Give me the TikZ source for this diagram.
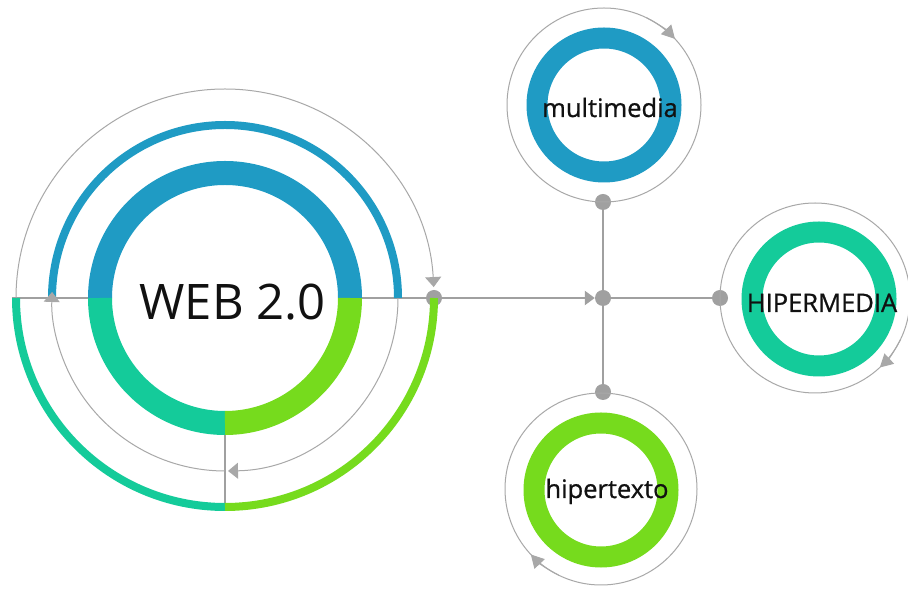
\documentclass[tikz,border=0pt]{standalone}
\usepackage{fontspec}
\setmainfont{Open Sans}
\newfontfamily\lblfont{Open Sans}[BoldFont={Open Sans}, BoldFeatures={FakeBold=0.8}]
\usetikzlibrary{arrows.meta,calc}
\definecolor{cblue}{HTML}{1F9BC4}
\definecolor{cteal}{HTML}{14CB9A}
\definecolor{cgreen}{HTML}{76DB1D}
\definecolor{cgray}{HTML}{A0A0A0}
\definecolor{clight}{HTML}{A8A8A8}
\definecolor{ctext}{HTML}{111111}
\begin{document}
\begin{tikzpicture}[x=1pt,y=1pt,
  thinc/.style={draw=clight, line width=1pt},
  axis/.style={draw=cgray, line width=1.3pt},
  link/.style={draw=cgray, line width=2.2pt},
  dotn/.style={circle, fill=cgray, minimum size=16pt, inner sep=0pt},
  bigtip/.style={-{Triangle[length=10pt,width=16pt]}},
  smalltip/.style={-{Triangle[length=13pt,width=14pt]}},
  lbl/.style={font=\lblfont\bfseries\fontsize{25.5}{28}\selectfont, text=ctext, inner sep=0pt, anchor=base}
]
\useasboundingbox (0,0) rectangle (908,589);
\fill[white] (0,0) rectangle (908,589);
\coordinate (C) at (225,291);
% axis lines of the big figure
\coordinate (L0) at ([shift={(180:213)}]C);
\coordinate (L1) at ([shift={(180:137)}]C);
\coordinate (R1) at ([shift={(0:137)}]C);
\coordinate (B1) at ([shift={(270:137)}]C);
\coordinate (B0) at ([shift={(270:213)}]C);
\node[dotn] (d1) at ([shift={(0:209)}]C) {};
\node[dotn] (j) at (603,291) {};
\node[dotn] (dt) at (603,387) {};
\node[dotn] (db) at (603,197) {};
\node[dotn] (dr) at (720,291) {};
\draw[axis] (L0) -- (L1);
\draw[axis] (R1) -- (d1);
\draw[axis] (B1) -- (B0);
% inner ring
\draw[line width=24pt, cblue] ([shift={(0:125)}]C) arc[start angle=0,end angle=180,radius=125];
\draw[line width=24pt, cteal] ([shift={(180:125)}]C) arc[start angle=180,end angle=270,radius=125];
\draw[line width=24pt, cgreen] ([shift={(270:125)}]C) arc[start angle=270,end angle=360,radius=125];
% second ring
\draw[line width=8pt, cblue] ([shift={(0:173)}]C) arc[start angle=0,end angle=180,radius=173];
\draw[thinc, bigtip] ([shift={(0:173)}]C) arc[start angle=0,end angle=-89,radius=173];
\draw[thinc, bigtip] ([shift={(-90:173)}]C) arc[start angle=-90,end angle=-182,radius=173];
% outer ring
\draw[line width=8pt, cteal] ([shift={(180:209)}]C) arc[start angle=180,end angle=270,radius=209];
\draw[line width=8pt, cgreen] ([shift={(270:209)}]C) arc[start angle=270,end angle=360,radius=209];
\draw[thinc, bigtip] ([shift={(180:209)}]C) arc[start angle=180,end angle=3,radius=209];
\node[font=\fontsize{49}{50}\selectfont, text=ctext, inner sep=0pt, anchor=base] (web) at (232.5,269) {WEB 2.0};
% links
\draw[link, -{Triangle[length=10pt,width=14pt]}] (d1) -- (j);
\draw[link] (j) -- (dt);
\draw[link] (j) -- (db);
\draw[link] (j) -- (dr);
% multimedia
\coordinate (M) at (604,484);
\draw[line width=21pt, cblue] (M) circle[radius=67];
\draw[thinc] (M) circle[radius=97];
\draw[thinc, smalltip] ([shift={(64:97)}]M) arc[start angle=64,end angle=43,radius=97];
\node[lbl] (tm) at (610,472) {multimedia};
% HIPERMEDIA
\coordinate (H) at (819,290);
\coordinate (H2) at (815,291);
\draw[line width=21pt, cteal] (H) circle[radius=67];
\draw[thinc] (H2) circle[radius=95];
\draw[thinc, smalltip] ([shift={(-26:95)}]H2) arc[start angle=-26,end angle=-47,radius=95];
\node[lbl] (th) at (822,277) {HIPERMEDIA};
% hipertexto
\coordinate (T) at (601,99);
\coordinate (T2) at (601,100);
\draw[line width=21pt, cgreen] (T) circle[radius=67];
\draw[thinc] (T2) circle[radius=96];
\draw[thinc, smalltip] ([shift={(244:96)}]T2) arc[start angle=244,end angle=223,radius=96];
\node[lbl] (tt) at (607,91) {hipertexto};
\end{tikzpicture}
\end{document}
